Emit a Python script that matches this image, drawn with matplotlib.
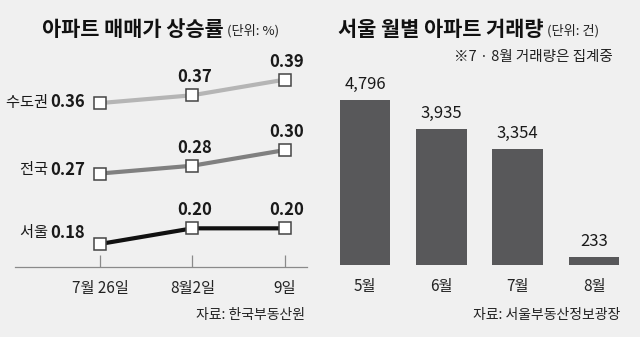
import matplotlib
matplotlib.use("Agg")
import matplotlib.pyplot as plt

plt.rcParams['font.family'] = ['Noto Sans CJK KR', 'DejaVu Sans']

# left chart: apartment price change rate (%)
dates = ['7월 26일', '8월2일', '9일']
series_names = ['수도권', '전국', '서울']
capital = [0.36, 0.37, 0.39]
nation = [0.27, 0.28, 0.30]
seoul = [0.18, 0.20, 0.20]

# right chart: Seoul monthly apartment transactions
months = ['5월', '6월', '7월', '8월']
deals = [4796, 3935, 3354, 233]

bg = '#f0f0f0'
fig = plt.figure(figsize=(6.4, 3.37), dpi=100, facecolor=bg)

# ---- left panel
ax1 = fig.add_axes([15/640, 70/337, 292/640, 217/337], facecolor=bg)
xs = range(len(dates))
line_colors = ['#b5b5b5', '#808080', '#111111']
first_off = [(-15, 1), (-15, 4), (-15, 11)]
for name, vals, c, off in zip(series_names, [capital, nation, seoul], line_colors, first_off):
    ax1.plot(xs, vals, color=c, lw=3, zorder=2)
    ax1.plot(xs, vals, ls='none', marker='s', ms=8, mfc='white', mec='#444444',
             mew=1.1, zorder=3)
    ax1.annotate(f'{vals[0]:.2f}', (0, vals[0]), xytext=off, textcoords='offset pixels',
                 ha='right', va='center', fontsize=12, fontweight='bold', color='#1a1a1a')
    ax1.annotate(name + ' ', (0, vals[0]), xytext=(off[0] - 34, off[1]),
                 textcoords='offset pixels', ha='right', va='center',
                 fontsize=11, color='#1a1a1a')
    for i in (1, 2):
        ax1.annotate(f'{vals[i]:.2f}', (i, vals[i]), xytext=(2, 18), textcoords='offset pixels',
                     ha='center', va='center', fontsize=12, fontweight='bold', color='#1a1a1a')

ax1.set_xlim(-0.919, 2.238)
ax1.set_ylim(0.1506, 0.4278)
ax1.set_xticks(list(xs))
ax1.set_xticklabels(dates, fontsize=11, color='#222222')
ax1.tick_params(axis='x', direction='in', length=8.6, width=0.9, color='#8a8a8a', pad=9)
ax1.set_yticks([])
for s in ['top', 'left', 'right']:
    ax1.spines[s].set_visible(False)
ax1.spines['bottom'].set_color('#8a8a8a')
ax1.spines['bottom'].set_linewidth(0.9)

t1 = fig.text(42/640, 1 - 29/337, '아파트 매매가 상승률', fontsize=15, fontweight='heavy',
              va='center', ha='left', color='#111111')
ax1.annotate(' (단위: %)', xy=(1, 0.42), xycoords=t1, fontsize=9.5, va='center',
             ha='left', color='#222222')
fig.text(305/640, 1 - 315/337, '자료: 한국부동산원', fontsize=10, va='center', ha='right',
         color='#222222')

# ---- right panel
ax2 = fig.add_axes([330/640, 72/337, 300/640, 215/337], facecolor=bg)
bx = range(len(months))
bars = ax2.bar(bx, deals, width=0.662, color='#58585a')
ax2.bar_label(bars, labels=[f'{v:,}' for v in deals], padding=5, fontsize=12,
              fontweight='medium', color='#1a1a1a')
ax2.set_xlim(-0.459, 3.47)
ax2.set_ylim(0, 215 * 29)
ax2.set_xticks(list(bx))
ax2.set_xticklabels(months, fontsize=11, color='#222222')
ax2.tick_params(axis='x', length=0, pad=9)
ax2.set_yticks([])
for s in ax2.spines.values():
    s.set_visible(False)

t2 = fig.text(338/640, 1 - 29/337, '서울 월별 아파트 거래량', fontsize=15, fontweight='heavy',
              va='center', ha='left', color='#111111')
ax2.annotate(' (단위: 건)', xy=(1, 0.42), xycoords=t2, fontsize=9.5, va='center',
             ha='left', color='#222222')
fig.text(613/640, 1 - 57/337, '※7 · 8월 거래량은 집계중', fontsize=10.5, va='center', ha='right',
         color='#222222')
fig.text(620/640, 1 - 315/337, '자료: 서울부동산정보광장', fontsize=10, va='center', ha='right',
         color='#222222')

fig.savefig('out.png', dpi=100, facecolor=bg)
